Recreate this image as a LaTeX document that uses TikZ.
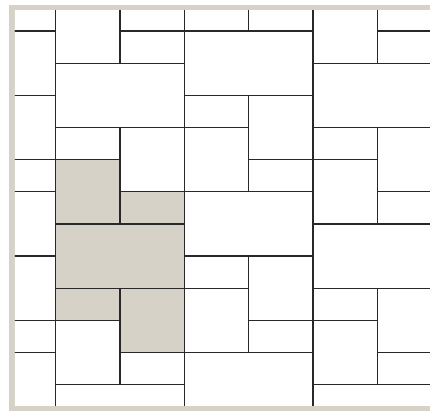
\documentclass[tikz,border=0pt]{standalone}
\usepackage{xcolor}
\definecolor{stone}{RGB}{214,210,199}
\definecolor{grout}{RGB}{40,40,40}
\usepackage{tikz}

\begin{document}
\begin{tikzpicture}[
  x=0.5cm, y=0.5cm,
  tile/.style={draw=grout,fill=white,line width=0.55pt},
  paved/.style={tile,fill=stone},
]
  \useasboundingbox[fill=white] (-1.7325,-11.82) rectangle (11.642,0.964);
  \fill[stone] (-1.4526,-11.82) rectangle (11.642,0.809);
  \fill[white] (-1.266,-11.648) rectangle (11.642,0.622);

  \begin{scope}
    \clip (-1.266,-11.648) rectangle (11.642,0.622);
    % left strip
    \foreach \ya/\yb in {1/0,0/-2,-2/-4,-4/-5,-5/-7,-7/-9,-9/-10,-10/-13}
      \draw[tile] (-2,\ya) rectangle (0,\yb);
    % white slabs
    \foreach \xa/\ya/\xb/\yb in {
        0/1/2/-1, 0/-1/4/-3, 0/-3/2/-4, 0/-9/2/-11, 0/-11/4/-13,
        2/1/4/0, 2/0/4/-1, 2/-3/4/-5, 2/-10/4/-11,
        4/1/6/0, 4/0/8/-2, 4/-2/6/-3, 4/-3/6/-5, 4/-5/8/-7,
        4/-7/6/-8, 4/-8/6/-10, 4/-10/8/-13,
        6/1/8/0, 6/-2/8/-4, 6/-4/8/-5, 6/-7/8/-9, 6/-9/8/-10,
        8/1/10/-1, 8/-1/12/-3, 8/-3/10/-4, 8/-4/10/-6, 8/-6/12/-8,
        8/-8/10/-9, 8/-9/10/-11, 8/-11/12/-13,
        10/1/12/0, 10/0/12/-1, 10/-3/12/-5, 10/-5/12/-6,
        10/-8/12/-10, 10/-10/12/-11}
      \draw[tile] (\xa,\ya) rectangle (\xb,\yb);
    % paved slabs
    \foreach \xa/\ya/\xb/\yb in {
        0/-4/2/-6, 2/-5/4/-6, 0/-6/4/-8, 0/-8/2/-9, 2/-8/4/-10}
      \draw[paved] (\xa,\ya) rectangle (\xb,\yb);
  \end{scope}
\end{tikzpicture}
\end{document}
